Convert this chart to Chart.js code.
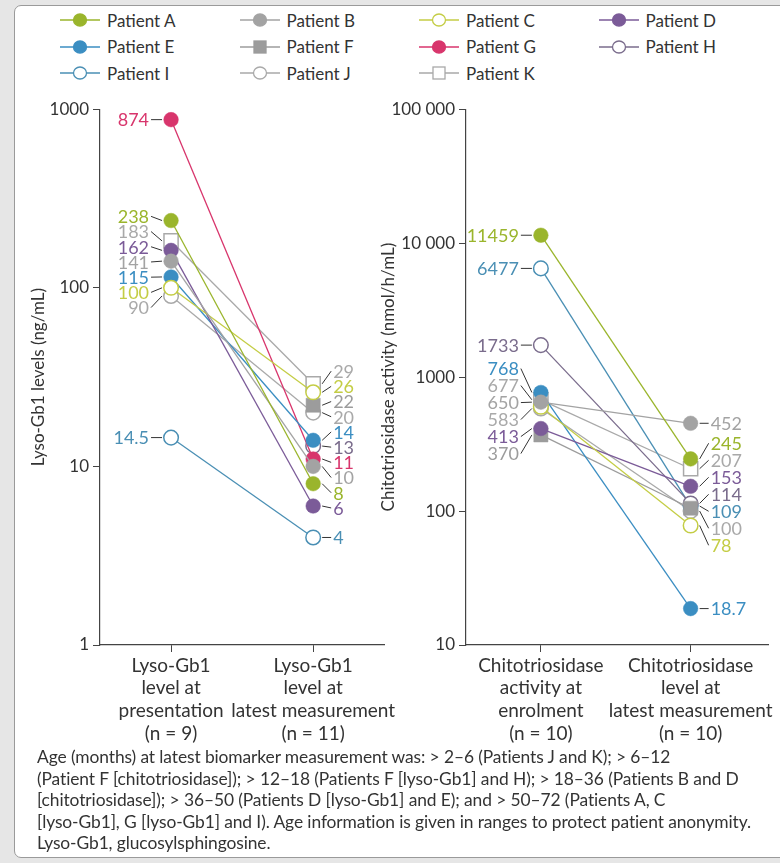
<!DOCTYPE html>
<html><head><meta charset="utf-8">
<script src="https://cdn.jsdelivr.net/npm/chart.js@4.4.1/dist/chart.umd.min.js"></script>
<style>
html,body{margin:0;padding:0;background:#e6e6e6;width:780px;height:863px;overflow:hidden;font-family:Lato,'Open Sans',sans-serif;}
#panel{position:absolute;left:14px;top:5px;width:800px;height:851px;background:#fff;border:1px solid #9a9a9a;border-radius:7px;}
.leg{position:absolute;height:20px;display:flex;align-items:center;font-size:17px;color:#333;white-space:nowrap;}
.leg svg{margin-right:7px;}
#c1{position:absolute;left:0;top:95px;}
#c2{position:absolute;left:365px;top:95px;}
#note{position:absolute;left:37px;top:746px;font-size:17.4px;line-height:21.5px;color:#333;white-space:nowrap;letter-spacing:-0.1px;}
</style></head>
<body>
<div id="panel"></div>
<div id="legend"></div>
<canvas id="c1" width="400" height="655"></canvas>
<canvas id="c2" width="415" height="655"></canvas>
<div id="note">Age (months) at latest biomarker measurement was: &gt; 2–6 (Patients J and K); &gt; 6–12<br>(Patient F [chitotriosidase]); &gt; 12–18 (Patients F [lyso-Gb1] and H); &gt; 18–36 (Patients B and D<br>[chitotriosidase]); &gt; 36–50 (Patients D [lyso-Gb1] and E); and &gt; 50–72 (Patients A, C<br>[lyso-Gb1], G [lyso-Gb1] and I). Age information is given in ranges to protect patient anonymity.<br>Lyso-Gb1, glucosylsphingosine.</div>
<script>
// ---- data ----
const patients = ['Patient A','Patient B','Patient C','Patient D','Patient E','Patient F','Patient G','Patient H','Patient I','Patient J','Patient K'];
const colors   = ['#9ab52c','#a3a3a3','#c4cd45','#7b5b98','#3b8ec2','#9c9c9c','#d8356c','#7a6c8c','#4a8fb4','#a9a9a9','#a9a9a9'];
const filled   = [true,true,false,true,true,true,true,false,false,false,false];
const shapes   = ['circle','circle','circle','circle','circle','rect','circle','circle','circle','circle','rect'];

const lysoCategories  = [['Lyso-Gb1','level at','presentation','(n = 9)'],['Lyso-Gb1','level at','latest measurement','(n = 11)']];
const chitoCategories = [['Chitotriosidase','activity at','enrolment','(n = 10)'],['Chitotriosidase','level at','latest measurement','(n = 10)']];

const lysoPresentation = [238,141,100,162,115,null,874,null,14.5,90,183];
const lysoLatest       = [8,10,26,6,14,22,11,13,4,20,29];
const chitoEnrolment   = [11459,650,600,413,768,370,null,1733,6477,583,677];
const chitoLatest      = [245,452,78,153,18.7,105,null,114,109,100,207];
// values whose number is printed in the figure (false = not labelled in the reference)
const chitoEnrolmentLabelled = [true,true,false,true,true,true,true,true,true,true,true];
const chitoLatestLabelled    = [true,true,true,true,true,false,true,true,true,true,true];

const lysoTicks  = [1,10,100,1000];
const chitoTicks = [10,100,1000,10000,100000];
const lysoTitle  = 'Lyso-Gb1 levels (ng/mL)';
const chitoTitle = 'Chitotriosidase activity (nmol/h/mL)';

// ---- legend ----
const legend = document.getElementById('legend');
patients.forEach((p,i)=>{
  const col = i%4, row = Math.floor(i/4);
  const cx = 80 + col*179.5, cy = 20 + row*26.5;
  const d = document.createElement('div');
  d.className='leg';
  d.style.left=(cx-20)+'px'; d.style.top=(cy-10)+'px';
  const fill = filled[i]?colors[i]:'#fff';
  const mark = shapes[i]==='rect'
    ? `<rect x="14" y="4" width="12" height="12" fill="${fill}" stroke="${colors[i]}" stroke-width="1.3"/>`
    : `<ellipse cx="20" cy="10" rx="6.5" ry="6" fill="${fill}" stroke="${colors[i]}" stroke-width="1.3"/>`;
  d.innerHTML = `<svg width="40" height="20"><line x1="0" y1="10" x2="40" y2="10" stroke="${colors[i]}" stroke-width="1.5"/>${mark}</svg><span>${p}</span>`;
  legend.appendChild(d);
});

// ---- helpers ----
Chart.defaults.font.family = 'Lato, "Open Sans", sans-serif';
Chart.defaults.color = '#333';
function fmt(v){ return v>=10000 ? String(v).replace(/\B(?=(\d{3})+(?!\d))/g,' ') : String(v); }

function spread(items, s){
  items.sort((a,b)=>a.ty-b.ty);
  const groups = items.map(it=>({items:[it], sum:it.ty}));
  const start = g => g.sum/g.items.length - (g.items.length-1)*s/2;
  for(;;){
    let merged=false;
    for(let k=0;k<groups.length-1;k++){
      const a=groups[k], b=groups[k+1];
      const aEnd = start(a)+(a.items.length-1)*s;
      if(start(b)-aEnd < s){ a.items=a.items.concat(b.items); a.sum+=b.sum; groups.splice(k+1,1); merged=true; break; }
    }
    if(!merged) break;
  }
  groups.forEach(g=>{ const p=start(g); g.items.forEach((it,j)=>it.ly=p+j*s); });
}

function labelPlugin(series, labelled, spacing){
  return {
    id:'valueLabels',
    afterDatasetsDraw(chart){
      const ctx = chart.ctx, xs = chart.scales.x, ys = chart.scales.y;
      [0,1].forEach(side=>{
        const items=[];
        series[side].forEach((v,i)=>{
          if(v==null || !labelled[side][i]) return;
          items.push({ty:ys.getPixelForValue(v), px:xs.getPixelForValue(side), text:String(v), color:colors[i]});
        });
        spread(items, spacing);
        ctx.save();
        ctx.font = '18px Lato, "Open Sans", sans-serif';
        ctx.textBaseline='middle';
        items.forEach(it=>{
          ctx.strokeStyle='#333'; ctx.lineWidth=1;
          ctx.beginPath();
          if(side===0){
            ctx.moveTo(it.px-20, it.ly); ctx.lineTo(it.px-9, it.ty);
          } else {
            ctx.moveTo(it.px+9, it.ty); ctx.lineTo(it.px+18, it.ly);
          }
          ctx.stroke();
          ctx.fillStyle=it.color;
          ctx.textAlign = side===0?'right':'left';
          ctx.fillText(it.text, side===0?it.px-22:it.px+20, it.ly+1);
        });
        ctx.restore();
      });
    }
  };
}

function makeChart(id, first, second, labelled, cats, ticks, title, yWidth, titlePad, xmin, xmax, spacing){
  const datasets = patients.map((p,i)=>({
    label:p,
    data:[{x:0,y:first[i]},{x:1,y:second[i]}],
    borderColor:colors[i],
    borderWidth:1.3,
    backgroundColor:colors[i],
    pointStyle:shapes[i],
    pointRadius:shapes[i]==='rect'?10:7.3,
    pointBackgroundColor:filled[i]?colors[i]:'#fff',
    pointBorderColor:colors[i],
    pointBorderWidth:filled[i]?0.5:1.5,
    spanGaps:false
  }));
  return new Chart(document.getElementById(id),{
    type:'line',
    data:{datasets},
    options:{
      responsive:false, animation:false, devicePixelRatio:1,
      layout:{padding:{top:10,right:id==='c1'?10:2,bottom:0,left:0}},
      plugins:{legend:{display:false},tooltip:{enabled:false}},
      scales:{
        x:{type:'linear',min:xmin,max:xmax,
          afterBuildTicks:s=>{s.ticks=[{value:0},{value:1}];},
          afterFit:s=>{s.height=105;},
          ticks:{callback:(v)=>cats[v],font:{size:19,lineHeight:1.2},color:'#333',padding:2,maxRotation:0,autoSkip:false},
          grid:{display:true,drawOnChartArea:false,tickLength:7,color:'#444'},
          border:{display:true,color:'#444',width:1.2}
        },
        y:{type:'logarithmic',min:ticks[0],max:ticks[ticks.length-1],
          afterBuildTicks:s=>{s.ticks=ticks.map(v=>({value:v,major:true}));},
          afterFit:s=>{s.width=yWidth;},
          ticks:{callback:v=>fmt(v),font:{size:17},color:'#333',padding:4,autoSkip:false},
          grid:{display:true,drawOnChartArea:false,tickLength:7,color:'#444'},
          border:{display:true,color:'#444',width:1.2},
          title:{display:true,text:title,font:{size:17},color:'#333',padding:{top:titlePad,bottom:0}}
        }
      }
    },
    plugins:[labelPlugin([first,second],labelled,spacing)]
  });
}

const allTrue = patients.map(()=>true);
makeChart('c1', lysoPresentation, lysoLatest, [allTrue,allTrue], lysoCategories, lysoTicks, lysoTitle, 100, 28, -0.5, 1.5, 15.2);
makeChart('c2', chitoEnrolment, chitoLatest, [chitoEnrolmentLabelled,chitoLatestLabelled], chitoCategories, chitoTicks, chitoTitle, 101, 13, -0.5, 1.52, 17);
</script>
</body></html>
